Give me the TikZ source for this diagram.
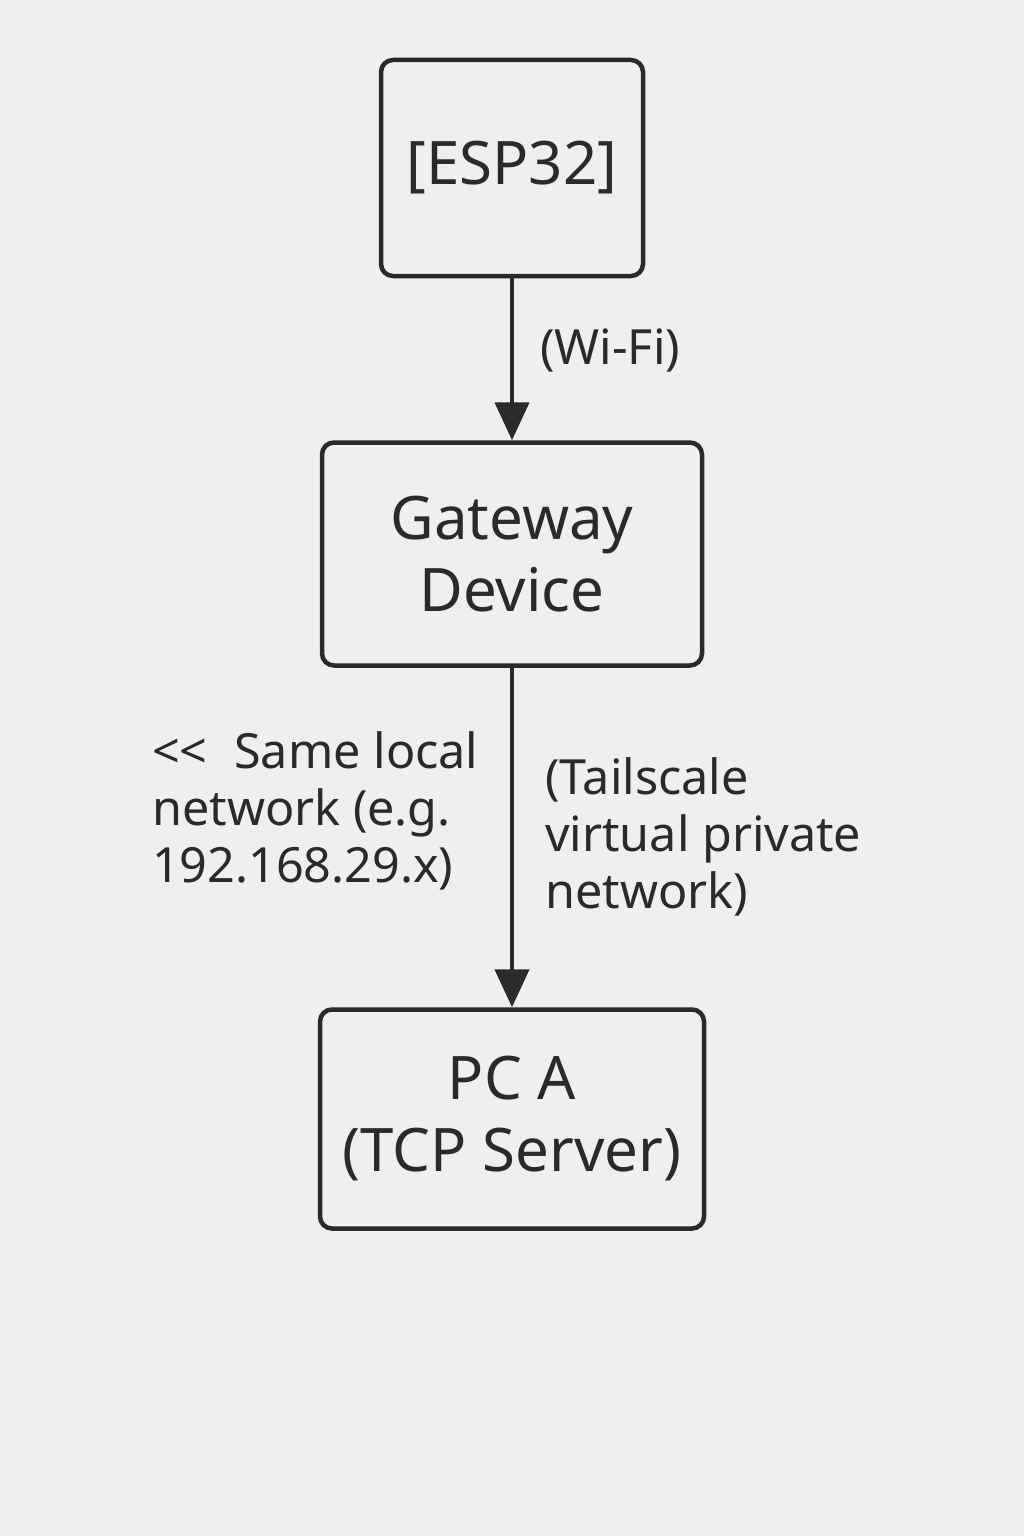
\documentclass[tikz,border=0pt]{standalone}
\usepackage{fontspec}
\setmainfont{Noto Sans}
\usetikzlibrary{arrows.meta}
\definecolor{bgcol}{HTML}{EFEFEF}
\definecolor{inkcol}{HTML}{2A2A2A}
\tikzset{
  box/.style={draw=inkcol, line width=4.5pt, rounded corners=12pt, text=inkcol,
    align=center, inner sep=0pt, font=\fontsize{60}{72}\selectfont},
  link/.style={draw=inkcol, line width=4.5pt, -{Triangle[length=38pt,width=34pt]}},
  note/.style={text=inkcol, align=left, inner sep=0pt, font=\fontsize{48.5}{57}\selectfont}
}
\begin{document}
\begin{tikzpicture}[x=1pt,y=-1pt]
  \fill[bgcol] (0,0) rectangle (1024,1536);
  \useasboundingbox (0,0) rectangle (1024,1536);
  \node[box, minimum width=262pt, minimum height=216pt] (esp) at (512,168) {[ESP32]};
  \node[box, minimum width=380pt, minimum height=223pt] (gw) at (512,554) {Gateway\\Device};
  \node[box, minimum width=384pt, minimum height=219pt] (pc) at (512,1119) {PC A\\(TCP Server)};
  \draw[link] (esp) -- (gw);
  \draw[link] (gw) -- (pc);
  \node[note, anchor=west] (wifi) at (540,350) {(Wi-Fi)};
  \node[note, anchor=north west] (lan) at (152,731) {<{}<\hspace{0.55em}Same local\\network (e.g.\\192.168.29.x)};
  \node[note, anchor=north west] (vpn) at (545,757) {(Tailscale\\virtual private\\network)};
\end{tikzpicture}
\end{document}
